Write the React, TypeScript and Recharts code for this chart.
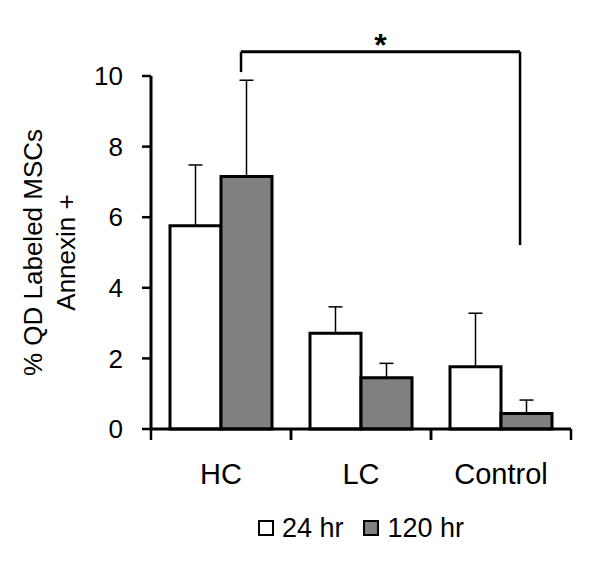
import { BarChart, Bar, XAxis, YAxis, ErrorBar, ReferenceLine, Label } from "recharts"

const groups = ["HC", "LC", "Control"]
const hr24 = [5.76, 2.71, 1.76]
const hr120 = [7.15, 1.45, 0.44]
const err24 = [1.72, 0.75, 1.52]
const err120 = [2.73, 0.41, 0.38]
const yTicks = [0, 2, 4, 6, 8, 10]

// significance bracket between HC 120 hr and Control 120 hr (x in group units, y in %)
const bracketX = [0.643, 2.636]
const bracketTop = 10.69
const bracketFeet = [10.11, 5.21]

const series = [
  { key: "hr24", err: "e24", label: "24 hr", fill: "#ffffff" },
  { key: "hr120", err: "e120", label: "120 hr", fill: "#808080" },
]

const data = groups.map((g, i) => ({
  group: g,
  pos: i + 0.5,
  hr24: hr24[i],
  hr120: hr120[i],
  e24: [0, err24[i]],
  e120: [0, err120[i]],
}))

function GroupTick(props: any) {
  const { x, y, payload } = props
  const half = payload?.offset || 70
  return (
    <g>
      <line x1={x - half} x2={x - half} y1={y} y2={y + 11} stroke="#000" strokeWidth={2.5} />
      <line x1={x + half} x2={x + half} y1={y} y2={y + 11} stroke="#000" strokeWidth={2.5} />
      <text x={x} y={y + 55} textAnchor="middle" fontSize={29} fill="#000">
        {payload.value}
      </text>
    </g>
  )
}

function YTitle(props: any) {
  const vb = props.viewBox || { x: 0, y: 76, width: 151, height: 353 }
  const cy = vb.y + vb.height / 2
  const x1 = vb.x + 42
  const x2 = vb.x + 75
  return (
    <g fontSize={26} fill="#000">
      <text transform={`rotate(-90 ${x1} ${cy})`} x={x1} y={cy} textAnchor="middle">
        % QD Labeled MSCs
      </text>
      <text transform={`rotate(-90 ${x2} ${cy})`} x={x2} y={cy} textAnchor="middle">
        Annexin +
      </text>
    </g>
  )
}

export default function App() {
  return (
    <div
      style={{
        position: "absolute",
        left: 0,
        top: 0,
        width: 600,
        height: 564,
        background: "#fff",
        fontFamily: "'Liberation Sans', Arial, sans-serif",
      }}
    >
      <BarChart
        width={600}
        height={564}
        data={data}
        margin={{ top: 76, right: 29, bottom: 95, left: 0 }}
        barGap={0}
      >
        <XAxis
          dataKey="group"
          height={40}
          axisLine={{ stroke: "#000", strokeWidth: 3 }}
          tickLine={false}
          tickSize={0}
          tickMargin={0}
          tick={<GroupTick />}
          interval={0}
        />
        <XAxis xAxisId="pos" dataKey="pos" type="number" domain={[0, 3]} allowDataOverflow hide />
        <YAxis
          domain={[0, 10]}
          ticks={yTicks}
          width={151}
          tickSize={9}
          tickMargin={19}
          axisLine={{ stroke: "#000", strokeWidth: 3 }}
          tickLine={{ stroke: "#000", strokeWidth: 2.5 }}
          tick={{ fill: "#000", fontSize: 26 }}
        >
          <Label content={YTitle} />
        </YAxis>
        {series.map(s => (
          <Bar
            key={s.key}
            dataKey={s.key}
            name={s.label}
            fill={s.fill}
            stroke="#000"
            strokeWidth={3}
            barSize={51}
            isAnimationActive={false}
          >
            <ErrorBar dataKey={s.err} direction="y" width={7} stroke="#000" strokeWidth={1.5} />
          </Bar>
        ))}
        <ReferenceLine
          xAxisId="pos"
          ifOverflow="visible"
          segment={[
            { x: bracketX[0], y: bracketTop },
            { x: bracketX[1], y: bracketTop },
          ]}
          stroke="#000"
          strokeWidth={3}
          label={{ value: "*", position: "top", offset: -4, fontSize: 32, fontWeight: "bold", fill: "#000" }}
        />
        <ReferenceLine
          xAxisId="pos"
          ifOverflow="visible"
          segment={[
            { x: bracketX[0], y: bracketTop },
            { x: bracketX[0], y: bracketFeet[0] },
          ]}
          stroke="#000"
          strokeWidth={2.5}
        />
        <ReferenceLine
          xAxisId="pos"
          ifOverflow="visible"
          segment={[
            { x: bracketX[1], y: bracketTop },
            { x: bracketX[1], y: bracketFeet[1] },
          ]}
          stroke="#000"
          strokeWidth={2.5}
        />
      </BarChart>
      <div
        style={{
          position: "absolute",
          left: 151,
          width: 420,
          top: 513,
          display: "flex",
          justifyContent: "center",
          alignItems: "center",
          gap: 20,
          fontSize: 27,
          lineHeight: "30px",
          color: "#000",
        }}
      >
        {series.map(s => (
          <div key={s.key} style={{ display: "flex", alignItems: "center" }}>
            <span
              style={{
                display: "inline-block",
                width: 12,
                height: 12,
                border: "2.5px solid #000",
                background: s.fill,
                marginRight: 8,
              }}
            />
            {s.label}
          </div>
        ))}
      </div>
    </div>
  )
}
